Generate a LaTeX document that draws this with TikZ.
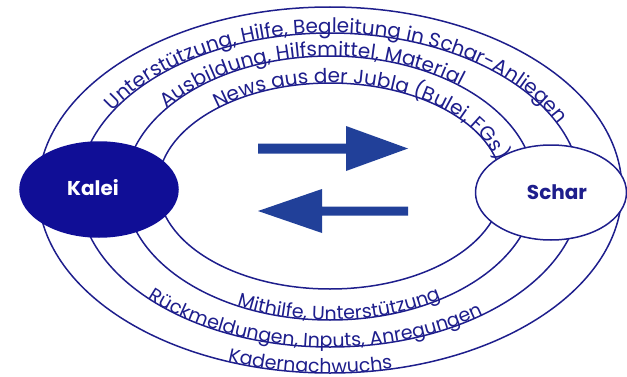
\documentclass[tikz,border=0pt]{standalone}
\usepackage{fontspec}
\setmainfont{Poppins}
\usetikzlibrary{decorations.text,shapes.geometric}
\definecolor{navy}{RGB}{30,30,140}
\definecolor{kaleifill}{RGB}{16,14,150}
\definecolor{arrowblue}{RGB}{33,64,153}
\newcommand\arctextfont{\fontsize{19}{19}\selectfont\color{navy}}
\newcommand\arctextfontL{\fontsize{20}{20}\selectfont\color{navy}}
\tikzset{
  ring/.style={draw=navy, line width=1.5pt},
  arctext/.style={decorate, decoration={text along path, text align=left, text={|\arctextfont|#1}}},
  arctextL/.style={decorate, decoration={text along path, text align=left, text={|\arctextfontL|#1}}},
  bigarrow/.style={fill=arrowblue},
  party/.style={ellipse, inner sep=0pt, minimum width=158pt, minimum height=95pt, line width=1.5pt},
  partylabel/.style={font=\fontsize{20}{20}\selectfont\bfseries}
}
\begin{document}
\begin{tikzpicture}[x=1pt,y=1pt]
\useasboundingbox (0,0) rectangle (627,376);
% rings
\draw[ring] (330,186) ellipse [x radius=292pt, y radius=183pt];
\draw[ring] (330,186) ellipse [x radius=251pt, y radius=157pt];
\draw[ring] (330,188) ellipse [x radius=205pt, y radius=132pt];
\draw[ring] (330,190) ellipse [x radius=172pt, y radius=103pt];
% texts on top arcs
\path[arctextL={Unterstützung, Hilfe, Begleitung in Schar-Anliegen}]
  ([shift={(330,186)}]150:251pt and 157pt) arc[start angle=150, end angle=0, x radius=251pt, y radius=157pt];
\path[arctextL={Ausbildung, Hilfsmittel, Material}]
  ([shift={(330,188)}]143:205pt and 132pt) arc[start angle=143, end angle=0, x radius=205pt, y radius=132pt];
\path[arctextL={News aus der Jubla (Bulei, FGs)}]
  ([shift={(330,190)}]131:172pt and 103pt) arc[start angle=131, end angle=0, x radius=172pt, y radius=103pt];
% texts on bottom arcs
\path[arctext={Mithilfe, Unterstützung}]
  ([shift={(330,188)}]243:205pt and 132pt) arc[start angle=243, end angle=360, x radius=205pt, y radius=132pt];
\path[arctext={Rückmeldungen, Inputs, Anregungen}]
  ([shift={(330,186)}]223.5:251pt and 157pt) arc[start angle=223.5, end angle=360, x radius=251pt, y radius=157pt];
\path[arctext={Kadernachwuchs}]
  ([shift={(330,186)}]249.5:292pt and 183pt) arc[start angle=249.5, end angle=360, x radius=292pt, y radius=183pt];
% arrows
\fill[bigarrow] (258,222.5) -- (346,222.5) -- (346,205) -- (408,227.5) -- (346,250) -- (346,232.5) -- (258,232.5) -- cycle;
\fill[bigarrow] (408,160.5) -- (322,160.5) -- (322,143) -- (258,165) -- (322,187) -- (322,169.5) -- (408,169.5) -- cycle;
% parties
\node[party, fill=kaleifill, draw=kaleifill] (kalei) at (99,186.5) {};
\node[partylabel, text=white] (kaleilabel) at ([xshift=-6pt,yshift=2pt]kalei.center) {Kalei};
\node[party, fill=white, draw=navy, minimum width=151pt] (schar) at (551,183.5) {};
\node[partylabel, text=navy] (scharlabel) at ([xshift=6pt]schar.center) {Schar};
\end{tikzpicture}
\end{document}
